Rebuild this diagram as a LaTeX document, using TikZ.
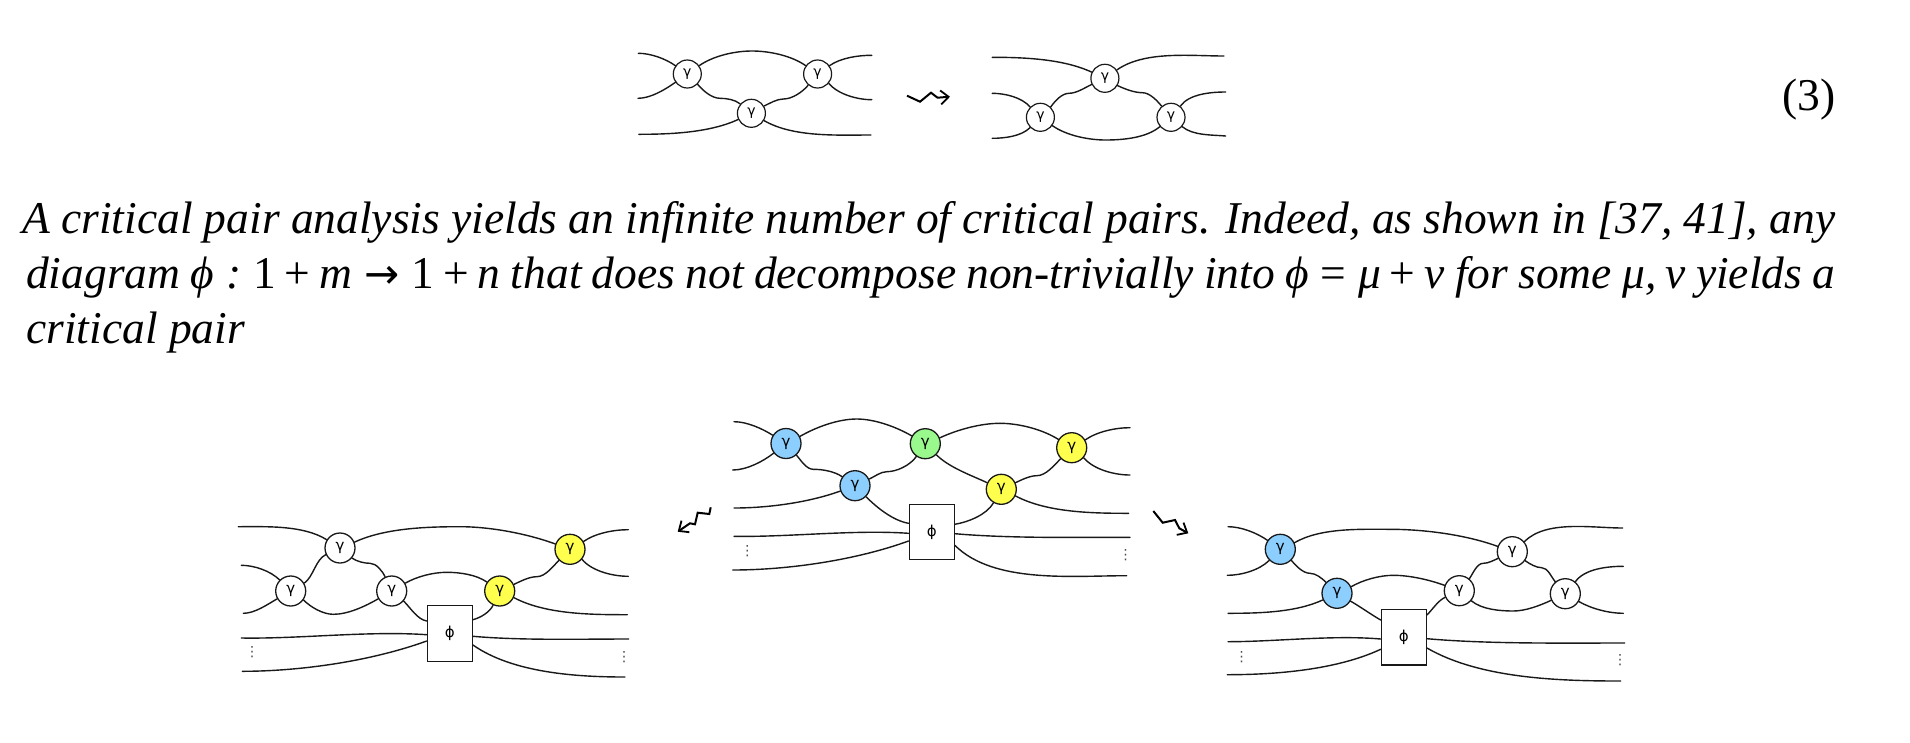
\documentclass[tikz,border=0pt]{standalone}
\usepackage{fontspec}
\setmainfont{Liberation Serif}
\newfontfamily\labfont{DejaVu Sans}
\newfontfamily\dotfont{DejaVu Sans}
\usetikzlibrary{arrows.meta}
\newcommand{\W}[4]{\draw[wire] (#1) to[out=#2,in=#3] (#4);}
\newcommand{\A}[5]{\draw[wire] (#1) to[out=#2,in=180] (#3) to[out=0,in=#4] (#5);}
\tikzset{
  x=1pt,y=1pt,
  wire/.style={line width=1.4pt,black!90,line cap=round,looseness=0.8},
  gam/.style={circle,draw=black!90,line width=1.3pt,fill=#1,minimum size=30pt,inner sep=0pt,font=\labfont\fontsize{15}{15}\selectfont},
  gam/.default=white,
  gams/.style={circle,draw=black!90,line width=1.2pt,fill=white,minimum size=28pt,inner sep=0pt,font=\labfont\fontsize{14}{14}\selectfont},
  phibox/.style={rectangle,draw=black!90,line width=1.3pt,fill=white,minimum width=45pt,minimum height=55.5pt,inner sep=0pt,font=\labfont\fontsize{15}{15}\selectfont},
  dotsn/.style={inner sep=0pt,text=black!70,font=\dotfont\fontsize{14}{14}\selectfont},
  squig/.style={line width=2pt,black,-{Straight Barb[length=8pt,width=14pt,line width=1.8pt]},line join=miter},
  para/.style={anchor=base west,inner sep=0pt,font=\fontsize{45.5}{45.5}\selectfont},
}
\definecolor{cblue}{HTML}{8CCFFF}
\definecolor{cgreen}{HTML}{99F98C}
\definecolor{cyellow}{HTML}{FFFF4D}
\newcommand{\mb}{\hspace{0.2em}}
\newcommand{\mr}{\hspace{0.26em}}
\begin{document}
\begin{tikzpicture}
\useasboundingbox (0,0) rectangle (1910,-742);
% ---- equation (3) diagrams
\node[gams] (a) at (687.3,-74) {γ};
\node[gams] (b) at (817.6,-74) {γ};
\node[gams] (c) at (751.4,-113.3) {γ};
\coordinate (aL1) at (638.4,-53.3);
\coordinate (aL2) at (638,-98.3);
\coordinate (aL3) at (638.8,-134.3);
\coordinate (aR1) at (871.8,-55.3);
\coordinate (aR2) at (871.8,-99.7);
\coordinate (aR3) at (871,-135);
\W{aL1}{0}{145}{a.145}
\W{aL2}{0}{215}{a.215}
\W{aL3}{0}{205}{c.205}
\A{a.35}{35}{752,-51}{145}{b.145}
\A{a.315}{-50}{720,-98.3}{140}{c.140}
\A{c.30}{25}{783.3,-99}{230}{b.230}
\W{c.330}{-30}{180}{aR3}
\W{b.35}{35}{180}{aR1}
\W{b.320}{-50}{180}{aR2}
\node[gams] (d) at (1104.9,-78.3) {γ};
\node[gams] (e) at (1040.4,-117.3) {γ};
\node[gams] (f) at (1171,-117.3) {γ};
\coordinate (bL1) at (992.2,-57.3);
\coordinate (bL2) at (992.2,-93.3);
\coordinate (bL3) at (992.2,-138.3);
\coordinate (bR1) at (1224,-56);
\coordinate (bR2) at (1225.7,-92);
\coordinate (bR3) at (1225.7,-136);
\W{bL1}{0}{155}{d.155}
\W{bL2}{0}{130}{e.135}
\W{bL3}{0}{225}{e.225}
\A{e.45}{55}{1069,-93.3}{205}{d.205}
\A{e.325}{-35}{1105.7,-140}{220}{f.220}
\A{d.330}{-25}{1142.4,-92.7}{130}{f.130}
\W{d.35}{35}{180}{bR1}
\W{f.50}{55}{180}{bR2}
\W{f.320}{-40}{175}{bR3}
% ---- squiggle of (3)
\coordinate (s1a) at (907,-95.7);
\coordinate (s1b) at (950,-96.7);
\draw[squig] (s1a) -- (920,-101.7) -- (931,-92.7) -- (937.5,-97.7) -- (s1b);
% ---- text
\node[para,anchor=base east] (eq) at (1836,-110) {(3)};
\node[para] (l1) at (22,-233) {\hbox to 1813pt{\itshape A critical pair analysis yields an infinite number of critical pairs. Indeed, as shown in [37, 41], any}};
\node[para] (l2) at (26,-288) {\hbox to 1809pt{\itshape diagram ϕ\mr:\mr{\upshape 1\mb+\mb}m\mr{\dotfont\upshape\fontsize{42}{42}\selectfont→}\mr{\upshape 1\mb+\mb}n that does not decompose non-trivially into ϕ\mr{\upshape =}\mr μ\mb{\upshape +}\mb ν for some μ,\mb ν yields a}};
\node[para] (l3) at (26,-343) {\itshape critical pair};
% ---- middle diagram
\node[gam=cblue] (B1) at (786,-443.5) {γ};
\node[gam=cblue] (B2) at (855,-485.7) {γ};
\node[gam=cgreen] (G) at (925.3,-443.7) {γ};
\node[gam=cyellow] (Y1) at (1071.7,-447.7) {γ};
\node[gam=cyellow] (Y2) at (1001.3,-489.3) {γ};
\node[phibox] (mb) at (931.7,-532) {ϕ};
\coordinate (mL1) at (734,-421.7);
\coordinate (mL2) at (732.7,-470);
\coordinate (mL3) at (734,-508);
\coordinate (mL4) at (734,-536.3);
\coordinate (mL5) at (732.7,-570);
\coordinate (mR1) at (1130,-427.7);
\coordinate (mR2) at (1130,-475);
\coordinate (mR3) at (1128.7,-513.3);
\coordinate (mR4) at (1130,-537.3);
\coordinate (mR5) at (1126.7,-575.7);
\W{mL1}{0}{148}{B1.148}
\W{mL2}{0}{218}{B1.218}
\W{mL3}{0}{200}{B2.200}
\A{B1.27}{30}{856.7,-419}{150}{G.150}
\A{B1.312}{-50}{813.3,-469.3}{145}{B2.145}
\A{B2.25}{25}{886.7,-471.7}{235}{G.235}
\W{B2.315}{-45}{170}{[yshift=8.7pt]mb.west}
\A{G.22}{25}{1000,-423.3}{148}{Y1.148}
\W{G.315}{-45}{155}{Y2.155}
\A{Y2.25}{25}{1036.7,-475.7}{225}{Y1.225}
\W{Y2.335}{-28}{180}{mR3}
\W{[yshift=7.7pt]mb.east}{10}{240}{Y2.240}
\W{Y1.30}{35}{180}{mR1}
\W{Y1.320}{-50}{180}{mR2}
\W{mL4}{-1}{176}{[yshift=-1.3pt]mb.west}
\W{mL5}{0}{200}{[yshift=-9pt]mb.west}
\W{[yshift=-1.7pt]mb.east}{-5}{180}{mR4}
\W{[yshift=-13.3pt]mb.east}{-45}{180}{mR5}
\node[dotsn] (md1) at (747.3,-551) {⋮};
\node[dotsn] (md2) at (1125.7,-555) {⋮};
% ---- left diagram
\node[gam] (n1) at (340,-548) {γ};
\node[gam] (n2) at (290.7,-591) {γ};
\node[gam] (n3) at (391.7,-591) {γ};
\node[gam=cyellow] (P2) at (499.7,-591) {γ};
\node[gam=cyellow] (P1) at (570,-549.3) {γ};
\node[phibox] (lb) at (449.8,-633.5) {ϕ};
\coordinate (lL1) at (238.3,-526.7);
\coordinate (lL2) at (241.3,-565.3);
\coordinate (lL3) at (243.3,-613.3);
\coordinate (lL4) at (241.3,-638);
\coordinate (lL5) at (242.3,-671.3);
\coordinate (lR1) at (628.3,-529.7);
\coordinate (lR2) at (628.3,-576.3);
\coordinate (lR3) at (627.3,-614.7);
\coordinate (lR4) at (628.7,-639);
\coordinate (lR5) at (625,-677);
\W{lL1}{0}{148}{n1.148}
\W{lL2}{0}{135}{n2.135}
\W{lL3}{0}{210}{n2.210}
\W{n2.30}{35}{205}{n1.205}
\A{n2.325}{-45}{333.3,-614.3}{210}{n3.210}
\A{n1.22}{25}{460,-526.7}{160}{P1.160}
\A{n1.320}{-35}{370,-563.3}{115}{n3.115}
\A{n3.30}{30}{446.7,-572.3}{145}{P2.145}
\W{n3.320}{-45}{170}{[yshift=12.5pt]lb.west}
\W{[yshift=13.8pt]lb.east}{15}{245}{P2.245}
\A{P2.25}{25}{536.7,-576.7}{225}{P1.225}
\W{P2.335}{-28}{180}{lR3}
\W{P1.30}{35}{180}{lR1}
\W{P1.320}{-50}{180}{lR2}
\W{lL4}{-1}{176}{[yshift=-1.2pt]lb.west}
\W{lL5}{0}{200}{[yshift=-7.5pt]lb.west}
\W{[yshift=-2.8pt]lb.east}{-5}{180}{lR4}
\W{[yshift=-11.5pt]lb.east}{-35}{180}{lR5}
\node[dotsn] (ld1) at (252,-652.3) {⋮};
\node[dotsn] (ld2) at (624,-657) {⋮};
% ---- right diagram
\node[gam=cblue] (Q1) at (1280.3,-549.3) {γ};
\node[gam=cblue] (Q2) at (1337,-593.3) {γ};
\node[gam] (w1) at (1512.3,-551.7) {γ};
\node[gam] (w2) at (1459.3,-590.7) {γ};
\node[gam] (w3) at (1565.3,-593.7) {γ};
\node[phibox] (rb) at (1403.8,-637.3) {ϕ};
\coordinate (rL1) at (1228,-526.7);
\coordinate (rL2) at (1227.3,-575.3);
\coordinate (rL3) at (1228,-613.3);
\coordinate (rL4) at (1228,-641.7);
\coordinate (rL5) at (1227.3,-674.7);
\coordinate (rR1) at (1622.7,-528);
\coordinate (rR2) at (1623.3,-566.3);
\coordinate (rR3) at (1623.3,-613.3);
\coordinate (rR4) at (1624.7,-643);
\coordinate (rR5) at (1620.7,-681);
\W{rL1}{0}{145}{Q1.145}
\W{rL2}{0}{225}{Q1.225}
\W{rL3}{0}{205}{Q2.205}
\A{Q1.25}{30}{1390,-529.3}{160}{w1.160}
\A{Q1.315}{-50}{1310,-573.3}{135}{Q2.135}
\A{Q2.25}{30}{1393.3,-575.3}{160}{w2.160}
\W{Q2.330}{-30}{150}{[yshift=17.3pt]rb.west}
\W{[yshift=22.3pt]rb.east}{45}{205}{w2.205}
\A{w2.50}{55}{1483.3,-563.3}{205}{w1.205}
\A{w2.320}{-40}{1513.3,-611}{205}{w3.205}
\W{w1.40}{45}{180}{rR1}
\A{w1.325}{-35}{1541.7,-567.7}{130}{w3.130}
\W{w3.50}{55}{180}{rR2}
\W{w3.330}{-30}{180}{rR3}
\W{rL4}{0}{175}{[yshift=-1.7pt]rb.west}
\W{rL5}{0}{205}{[yshift=-12pt]rb.west}
\W{[yshift=-1.4pt]rb.east}{-5}{180}{rR4}
\W{[yshift=-10.7pt]rb.east}{-30}{180}{rR5}
\node[dotsn] (rd1) at (1241.7,-656.7) {⋮};
\node[dotsn] (rd2) at (1620,-660) {⋮};
% ---- squiggles
\coordinate (s2a) at (710.7,-507.3);
\coordinate (s2b) at (677.7,-531.7);
\draw[squig] (s2a) -- (709.3,-514) -- (697.7,-512.7) -- (695,-524.3) -- (690,-523.3) -- (s2b);
\coordinate (s3a) at (1153.3,-511);
\coordinate (s3b) at (1188.3,-533.3);
\draw[squig] (s3a) -- (1162.7,-522.7) -- (1175,-520) -- (1179.3,-528.3) -- (s3b);
\end{tikzpicture}
\end{document}
